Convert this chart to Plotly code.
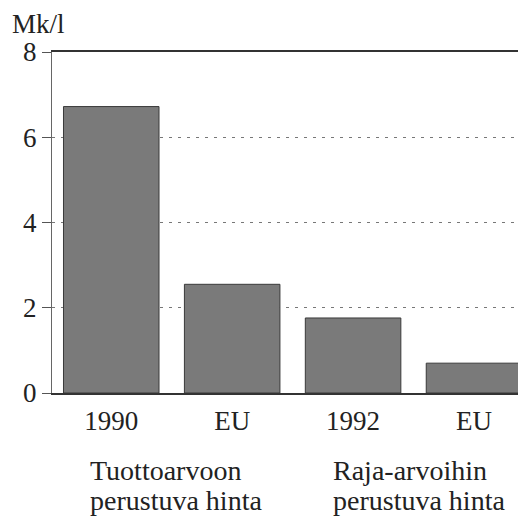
import plotly.graph_objects as go

# data (Mk/l)
categories = ['1990', 'EU', '1992', 'EU ']
tick_text = ['1990', 'EU', '1992', 'EU']
prices = [6.72, 2.55, 1.76, 0.70]
y_ticks = [0, 2, 4, 6, 8]

group_labels = [
    ('Tuottoarvoon', 'perustuva hinta'),
    ('Raja-arvoihin', 'perustuva hinta'),
]

FONT = 'Liberation Serif, Times New Roman, serif'
INK = '#222222'

fig = go.Figure(go.Bar(
    x=list(range(len(categories))), y=prices,
    width=0.79,
    marker=dict(color='#7a7a7a', line=dict(color='#3a3a3a', width=1)),
    hoverinfo='skip',
))

# group captions under the category labels
for left_x, (line1, line2) in zip([-0.19, 1.82], group_labels):
    for text, ypos in ((line1, -0.226), (line2, -0.315)):
        fig.add_annotation(
            x=left_x, y=ypos, xref='x', yref='paper',
            xanchor='left', yanchor='middle', showarrow=False,
            text=text, font=dict(size=28, color=INK, family=FONT),
        )

fig.add_annotation(
    x=-0.088, y=1.082, xref='paper', yref='paper',
    xanchor='left', yanchor='middle', showarrow=False,
    text='Mk/l', font=dict(size=27, color=INK, family=FONT),
)

# page body adds an 8px offset, so the figure is 8px smaller
fig.update_layout(
    width=518, height=513,
    margin=dict(l=44, r=0, t=44, b=128),
    plot_bgcolor='white', paper_bgcolor='white',
    font=dict(family=FONT, size=27, color=INK),
    showlegend=False,
    xaxis=dict(
        range=[-0.49, 3.43],
        tickvals=list(range(len(categories))), ticktext=tick_text,
        showline=True, linecolor='#333333', linewidth=1.5, mirror=True,
        showgrid=False, zeroline=False, ticks='', ticklabelstandoff=3,
    ),
    yaxis=dict(
        range=[0, 8], tickvals=y_ticks,
        showline=True, linecolor='#666666', linewidth=1,
        ticks='outside', ticklen=9, tickcolor='#555555',
        showgrid=True, gridcolor='#777777', gridwidth=1, griddash='3px,6px',
        zeroline=False,
    ),
)

fig.write_html('out.html')
